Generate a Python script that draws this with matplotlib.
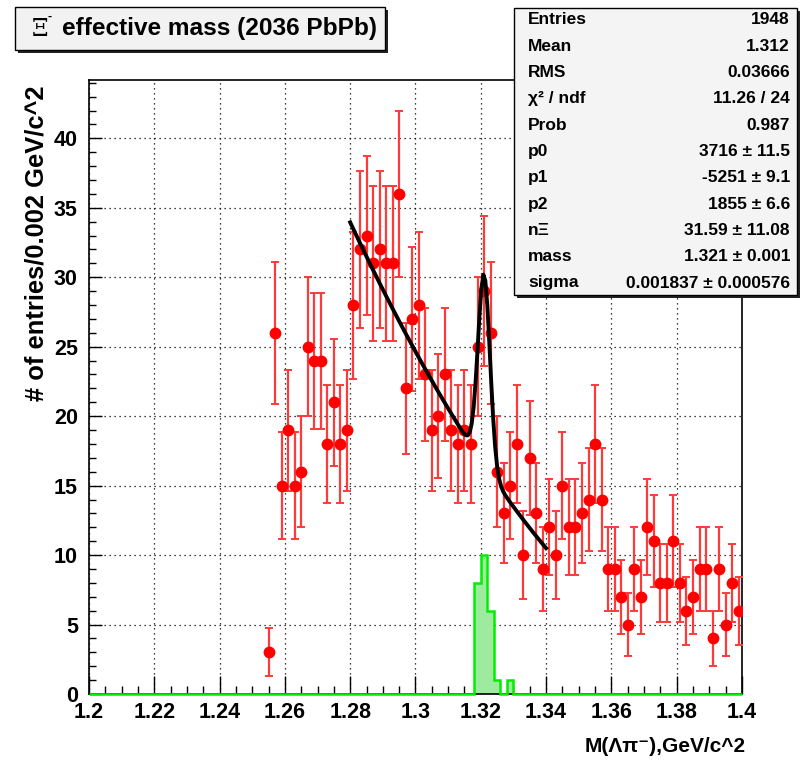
import numpy as np
import matplotlib
matplotlib.use("Agg")
import matplotlib.pyplot as plt
from matplotlib.patches import Rectangle
from matplotlib.ticker import MultipleLocator, FuncFormatter

FONT = ["Liberation Sans", "DejaVu Sans"]

# red points: first bin centre 1.255, bin width 0.002
first_bin = 1.255
bin_width = 0.002
counts = [3, 26, 15, 19, 15, 16, 25, 24, 24, 18, 21, 18, 19, 28, 32, 33, 31, 32, 31, 31,
          36, 22, 27, 28, 23, 19, 20, 23, 19, 18, 19, 18, 25, 29, 26, 16, 13, 15, 18,
          10, 17, 13, 9, 12, 10, 15, 12, 12, 13, 14, 18, 14, 9, 9, 7, 5, 9, 7, 12,
          11, 8, 8, 11, 8, 6, 7, 9, 9, 4, 9, 5, 8, 6]

# green (signal) histogram
sig_edges = [1.318, 1.320, 1.322, 1.324, 1.326, 1.328, 1.330]
sig_counts = [8, 10, 6, 1, 0, 1]

# fit parameters (from the stats box)
p0, p1, p2 = 3716, -5251, 1855
n_xi, m_xi, s_xi = 31.59, 1.321, 0.001837
fit_range = (1.28, 1.34)

stats_labels = ["Entries", "Mean", "RMS", "χ² / ndf", "Prob", "p0", "p1", "p2",
                "nΞ", "mass", "sigma"]
stats_values = ["1948", "1.312", "0.03666", "11.26 / 24", "0.987", "3716 ± 11.5",
                "-5251 ± 9.1", "1855 ± 6.6", "31.59 ± 11.08", "1.321 ± 0.001",
                "0.001837 ± 0.000576"]

W, H = 802, 760
fig = plt.figure(figsize=(W / 100, H / 100), dpi=100)
fig.patch.set_facecolor("white")

def fx(px):
    return px / W

def fy(py):
    return 1 - py / H

ax = fig.add_axes([fx(89), fy(694), fx(742) - fx(89), fy(80) - fy(694)])

x = first_bin + bin_width * np.arange(len(counts))
y = np.array(counts, dtype=float)
ax.errorbar(x, y, yerr=np.sqrt(y), fmt="o", color="#ff0000", ecolor="#ff3a3a",
            markersize=7.5, elinewidth=1.6, capsize=3, capthick=1.4, zorder=3)

# full-range histogram outline (gives the green baseline)
edges = np.linspace(1.2, 1.4, 101)
full = np.zeros(100)
for e, c in zip(sig_edges[:-1], sig_counts):
    full[int(round((e - 1.2) / bin_width))] = c
ax.stairs(full, edges, fill=True, facecolor="#9eea9e", edgecolor="none",
          hatch="....", zorder=2)
ax.stairs(full, edges, color="#00ee00", linewidth=1.8, baseline=0, clip_on=False, zorder=4)

xf = np.linspace(fit_range[0], fit_range[1], 101)
yf = (p0 + p1 * xf + p2 * xf ** 2
      + n_xi * bin_width / (np.sqrt(2 * np.pi) * s_xi) * np.exp(-0.5 * ((xf - m_xi) / s_xi) ** 2))
ax.plot(xf, yf, color="black", linewidth=2.8, zorder=5)

ax.set_xlim(1.2, 1.4)
ax.set_ylim(0, 44.2)
ax.xaxis.set_major_locator(MultipleLocator(0.02))
ax.xaxis.set_minor_locator(MultipleLocator(0.005))
ax.yaxis.set_major_locator(MultipleLocator(5))
ax.yaxis.set_minor_locator(MultipleLocator(1))
ax.xaxis.set_major_formatter(FuncFormatter(lambda v, p: "%g" % round(v, 3)))
ax.tick_params(axis="x", which="major", direction="in", length=13, width=1, pad=6)
ax.tick_params(axis="x", which="minor", direction="in", length=6, width=1)
ax.tick_params(axis="y", which="major", direction="in", length=9, width=1, pad=8)
ax.tick_params(axis="y", which="minor", direction="in", length=5, width=1)
for lab in ax.get_xticklabels() + ax.get_yticklabels():
    lab.set_family(FONT)
    lab.set_weight("bold")
    lab.set_fontsize(15.5)
ax.grid(which="major", color="black", linestyle=(0, (1, 3)), linewidth=0.9)
ax.set_axisbelow(True)
for s in ax.spines.values():
    s.set_linewidth(1.2)

# axis titles
fig.text(fx(37), fy(243), "# of entries/0.002 GeV/c^2", rotation=90, ha="center",
         va="center", family=FONT, weight="bold", fontsize=18.4)
fig.text(fx(746), fy(746), "M(Λπ⁻),GeV/c^2", ha="right", va="center",
         family=FONT, weight="bold", fontsize=15)

# title box
fig.add_artist(Rectangle((fx(18), fy(53)), fx(370), fy(0) - fy(43), transform=fig.transFigure,
                         facecolor="#222222", edgecolor="none", zorder=10))
fig.add_artist(Rectangle((fx(15), fy(50)), fx(370), fy(0) - fy(43), transform=fig.transFigure,
                         facecolor="#f2f2f2", edgecolor="black", linewidth=1, zorder=11))
fig.text(fx(32), fy(29), "Ξ", family=["DejaVu Serif"], fontsize=17, ha="left",
         va="center", zorder=12)
fig.text(fx(48), fy(17), "-", family=FONT, fontsize=9, weight="bold", ha="left",
         va="center", zorder=12)
fig.text(fx(62), fy(29), "effective mass (2036 PbPb)", family=FONT, weight="bold",
         fontsize=17.6, ha="left", va="center", zorder=12)

# stats box
fig.add_artist(Rectangle((fx(517), fy(298)), fx(283), fy(0) - fy(287), transform=fig.transFigure,
                         facecolor="#222222", edgecolor="none", zorder=10))
fig.add_artist(Rectangle((fx(514), fy(295)), fx(283), fy(0) - fy(287), transform=fig.transFigure,
                         facecolor="#f4f4f4", edgecolor="black", linewidth=1, zorder=11))
for i, (lab, val) in enumerate(zip(stats_labels, stats_values)):
    yy = fy(20 + i * 26.3)
    fig.text(fx(528), yy, lab, family=FONT, weight="bold", fontsize=12.5, ha="left",
             va="center", zorder=12)
    fig.text(fx(790), yy, val, family=FONT, weight="bold", fontsize=12.5, ha="right",
             va="center", zorder=12)

fig.savefig("out.png", dpi=100)
